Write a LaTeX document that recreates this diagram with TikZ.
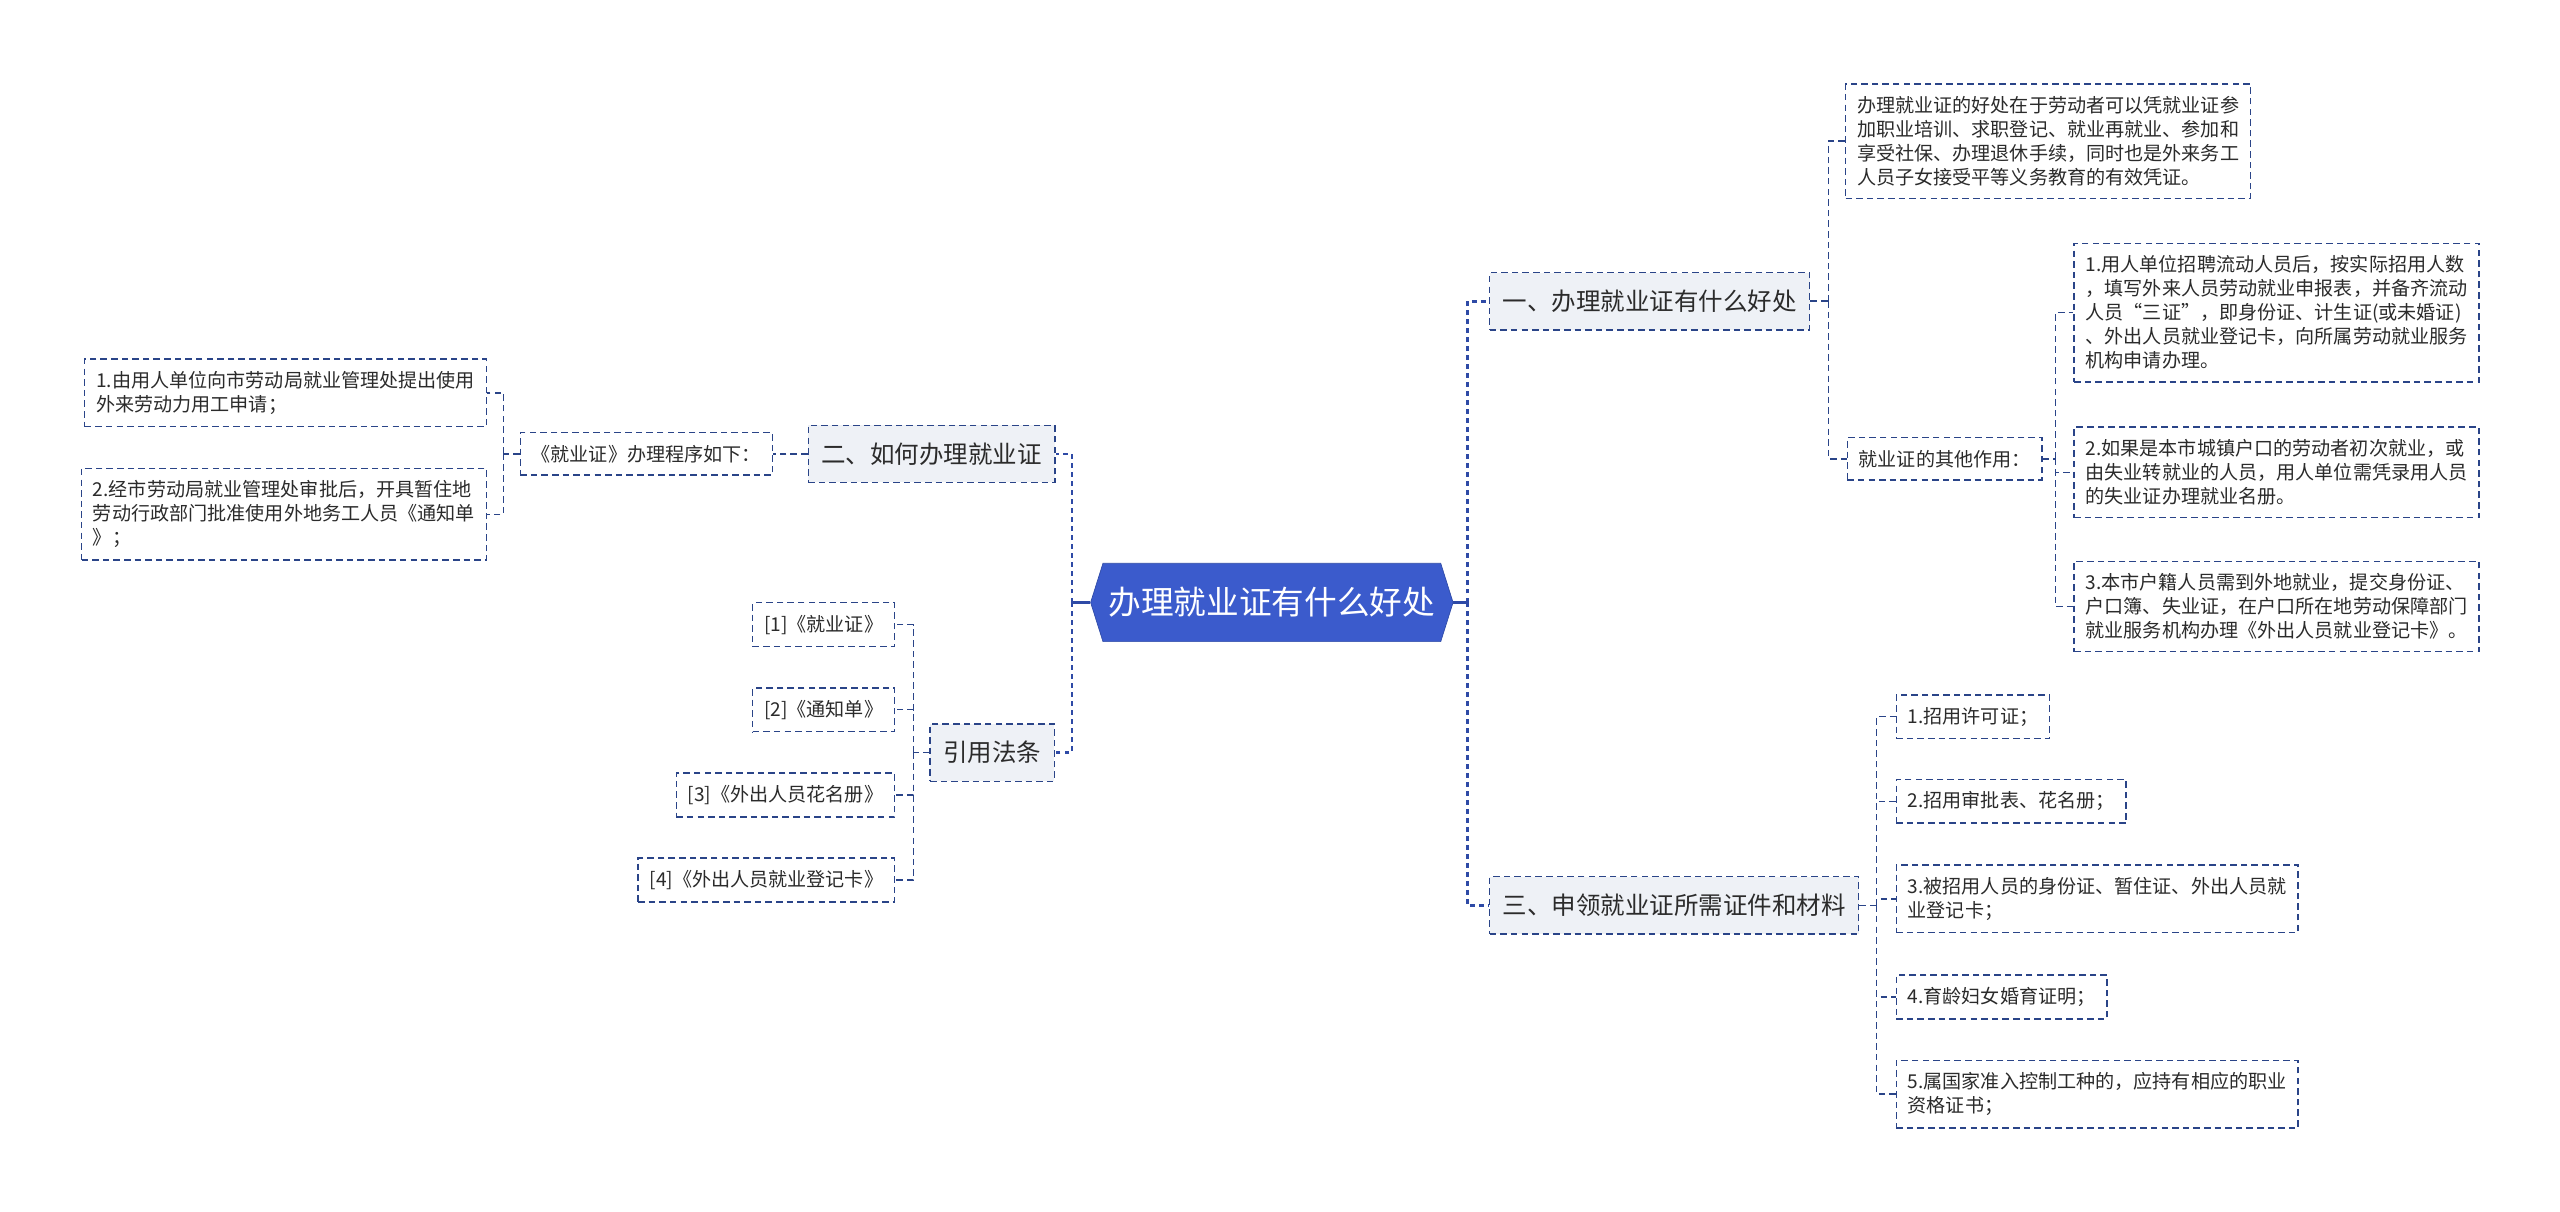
\documentclass[tikz,border=0pt]{standalone}
\usepackage{fontspec}
\setmainfont{Noto Sans CJK SC}
\usepackage{xcolor}
\usepackage{tikz}
\usetikzlibrary{shapes.symbols}
\definecolor{rootblue}{HTML}{3B5BCC}
\definecolor{rootedge}{HTML}{2E4AA6}
\definecolor{linkblue}{HTML}{2A4488}
\definecolor{topicgrey}{HTML}{EEF1F6}
\definecolor{textgrey}{HTML}{2B2B2B}
\tikzset{
  root/.style={signal, signal to=west and east, signal pointer angle=145, draw=rootedge, fill=rootblue, text=white, font=\fontsize{20}{24}\selectfont, minimum width=222pt, minimum height=48pt, inner sep=2pt},
  topic/.style={draw=linkblue, line width=0.9pt, dash pattern=on 4pt off 2.5pt, fill=topicgrey, text=textgrey, font=\fontsize{15}{18}\selectfont, inner xsep=8pt, minimum height=35pt},
  leaf/.style={draw=linkblue, line width=0.9pt, dash pattern=on 4pt off 2.5pt, fill=white, text=textgrey, font=\fontsize{11.7}{14.7}\selectfont, align=left, inner xsep=7pt, inner ysep=7.5pt},
  stem/.style={draw=rootedge, line width=1.4pt},
  trunk/.style={draw=rootedge, line width=1.6pt, dash pattern=on 3pt off 2.5pt},
  link/.style={draw=linkblue, line width=0.9pt, dash pattern=on 4pt off 2.5pt},
}

\begin{document}
\begin{tikzpicture}[x=1pt, y=-1pt]
\useasboundingbox (0,0) rectangle (1568,742);
\node[root] (root) at (779,369) {办理就业证有什么好处};
% right side
\node[topic, anchor=west] (r1) at (912,184.5) {一、办理就业证有什么好处};
\node[leaf, anchor=west] (r1a) at (1130,86.5) {办理就业证的好处在于劳动者可以凭就业证参\\加职业培训、求职登记、就业再就业、参加和\\享受社保、办理退休手续，同时也是外来务工\\人员子女接受平等义务教育的有效凭证。};
\node[leaf, anchor=west] (r1b) at (1131,281) {就业证的其他作用：};
\node[leaf, anchor=west] (r1b1) at (1270,191.5) {1.用人单位招聘流动人员后，按实际招用人数\\，填写外来人员劳动就业申报表，并备齐流动\\人员“三证”，即身份证、计生证(或未婚证)\\、外出人员就业登记卡，向所属劳动就业服务\\机构申请办理。};
\node[leaf, anchor=west] (r1b2) at (1270,289.3) {2.如果是本市城镇户口的劳动者初次就业，或\\由失业转就业的人员，用人单位需凭录用人员\\的失业证办理就业名册。};
\node[leaf, anchor=west] (r1b3) at (1270,371.5) {3.本市户籍人员需到外地就业，提交身份证、\\户口簿、失业证，在户口所在地劳动保障部门\\就业服务机构办理《外出人员就业登记卡》。};
\node[topic, anchor=west] (r3) at (912,554.5) {三、申领就业证所需证件和材料};
\node[leaf, anchor=west] (r31) at (1161,439) {1.招用许可证；};
\node[leaf, anchor=west] (r32) at (1161,490.8) {2.招用审批表、花名册；};
\node[leaf, anchor=west] (r33) at (1161,550.5) {3.被招用人员的身份证、暂住证、外出人员就\\业登记卡；};
\node[leaf, anchor=west] (r34) at (1161,610.7) {4.育龄妇女婚育证明；};
\node[leaf, anchor=west] (r35) at (1161,670.2) {5.属国家准入控制工种的，应持有相应的职业\\资格证书；};
% left side
\node[topic, anchor=east] (l2) at (646.5,278) {二、如何办理就业证};
\node[leaf, anchor=east] (l2a) at (473.5,278) {《就业证》办理程序如下：};
\node[leaf, anchor=east] (l2a1) at (298.4,240.6) {1.由用人单位向市劳动局就业管理处提出使用\\外来劳动力用工申请；};
\node[leaf, anchor=east] (l2a2) at (298.4,315) {2.经市劳动局就业管理处审批后，开具暂住地\\劳动行政部门批准使用外地务工人员《通知单\\》；};
\node[topic, anchor=east] (l3) at (646.2,461) {引用法条};
\node[leaf, anchor=east] (l31) at (548.4,382.6) {[1]《就业证》};
\node[leaf, anchor=east] (l32) at (548.4,434.7) {[2]《通知单》};
\node[leaf, anchor=east] (l33) at (548.4,487) {[3]《外出人员花名册》};
\node[leaf, anchor=east] (l34) at (548.4,539) {[4]《外出人员就业登记卡》};
% connectors
\coordinate (rt) at (899,369);
\coordinate (lt) at (656.5,369);
\draw[stem] (root.east) -- (rt);
\draw[stem] (root.west) -- (lt);
\foreach \n in {r1,r3} \draw[trunk] (rt) |- (\n.west);
\foreach \n in {l2,l3} \draw[trunk] (lt) |- (\n.east);
\coordinate (r1t) at (1120,184.5);
\draw[link] (r1.east) -- (r1t);
\foreach \n in {r1a,r1b} \draw[link] (r1t) |- (\n.west);
\coordinate (r1bt) at (1259,281);
\draw[link] (r1b.east) -- (r1bt);
\foreach \n in {r1b1,r1b2,r1b3} \draw[link] (r1bt) |- (\n.west);
\coordinate (r3t) at (1149.5,554.5);
\draw[link] (r3.east) -- (r3t);
\foreach \n in {r31,r32,r33,r34,r35} \draw[link] (r3t) |- (\n.west);
\draw[link] (l2.west) -- (l2a.east);
\coordinate (l2at) at (308.5,278);
\draw[link] (l2a.west) -- (l2at);
\foreach \n in {l2a1,l2a2} \draw[link] (l2at) |- (\n.east);
\coordinate (l3t) at (559.4,461);
\draw[link] (l3.west) -- (l3t);
\foreach \n in {l31,l32,l33,l34} \draw[link] (l3t) |- (\n.east);
\end{tikzpicture}
\end{document}
